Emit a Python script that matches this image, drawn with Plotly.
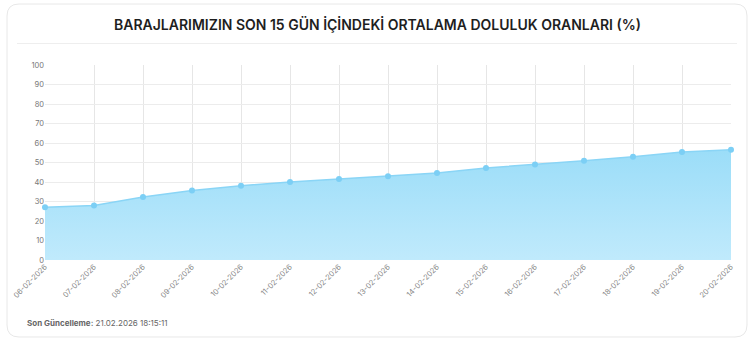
import plotly.graph_objects as go

dates = ["06-02-2026", "07-02-2026", "08-02-2026", "09-02-2026", "10-02-2026",
         "11-02-2026", "12-02-2026", "13-02-2026", "14-02-2026", "15-02-2026",
         "16-02-2026", "17-02-2026", "18-02-2026", "19-02-2026", "20-02-2026"]
doluluk = [27.1, 28.0, 32.3, 35.6, 38.1, 40.0, 41.5, 42.9, 44.6, 47.2,
           49.0, 50.9, 53.0, 55.4, 56.6]
y_ticks = [0, 10, 20, 30, 40, 50, 60, 70, 80, 90, 100]

title_text = "BARAJLARIMIZIN SON 15 GÜN İÇİNDEKİ ORTALAMA DOLULUK ORANLARI (%)"
footer_label = "Son Güncelleme:"
footer_value = "21.02.2026 18:15:11"

W, H = 750, 339
ML, MR, MT, MB = 45, 19, 65, 79
PW, PH = W - ML - MR, H - MT - MB

def px(x):
    return (x - ML) / PW

def py(y):
    return (H - MB - y) / PH

def rounded(x0, y0, x1, y1, r):
    def P(x, y):
        return f"{px(x):.5f},{py(y):.5f}"
    return (f"M{P(x0+r,y0)} L{P(x1-r,y0)} Q{P(x1,y0)} {P(x1,y0+r)} "
            f"L{P(x1,y1-r)} Q{P(x1,y1)} {P(x1-r,y1)} L{P(x0+r,y1)} "
            f"Q{P(x0,y1)} {P(x0,y1-r)} L{P(x0,y0+r)} Q{P(x0,y0)} {P(x0+r,y0)} Z")

fig = go.Figure()
fig.add_trace(go.Scatter(
    x=dates, y=doluluk, mode="lines+markers",
    line=dict(color="#8ad5f6", width=1.5),
    marker=dict(color="#7ccff5", size=6),
    fill="tozeroy",
    fillgradient=dict(type="vertical",
                      colorscale=[[0, "rgba(192,234,252,1)"], [1, "rgba(155,221,248,1)"]]),
    cliponaxis=False,
    hoverinfo="x+y", showlegend=False,
))

fig.update_layout(
    width=W, height=H,
    margin=dict(l=ML, r=MR, t=MT, b=MB),
    paper_bgcolor="white", plot_bgcolor="white",
    font=dict(family="Inter, Roboto, sans-serif", color="#666666", size=8),
    xaxis=dict(type="category", range=[0, 14], tickangle=-45,
               showgrid=True, gridcolor="#e6e6e6", gridwidth=1,
               showline=False, zeroline=False, ticks="",
               tickfont=dict(size=7.5, color="#888888")),
    yaxis=dict(range=[0, 100], tickvals=y_ticks, showgrid=True,
               gridcolor="#ececec", gridwidth=1, zeroline=False,
               showline=False, ticks="", ticklen=0,
               tickfont=dict(size=7.5, color="#777777")),
    shapes=[
        dict(type="path", xref="paper", yref="paper", layer="below",
             path=rounded(7, 4, 747, 337, 12),
             line=dict(color="#e8e8e8", width=1), fillcolor="rgba(0,0,0,0)"),
        dict(type="line", xref="paper", yref="paper", layer="below",
             x0=px(17), x1=px(737), y0=py(43.5), y1=py(43.5),
             line=dict(color="#eeeeee", width=1)),
    ],
    annotations=[
        dict(text=title_text, xref="paper", yref="paper",
             x=px(377), y=py(24),
             xanchor="center", yanchor="middle", showarrow=False,
             font=dict(size=14, color="#1e1e1e", weight=600,
                       family="Inter, Roboto, sans-serif")),
        dict(text=f"<b>{footer_label}</b> {footer_value}", xref="paper", yref="paper",
             x=px(25), y=py(323),
             xanchor="left", yanchor="middle", showarrow=False,
             font=dict(size=8, color="#666666", family="Inter, Roboto, sans-serif")),
    ],
)

fig.write_html("out.html")
